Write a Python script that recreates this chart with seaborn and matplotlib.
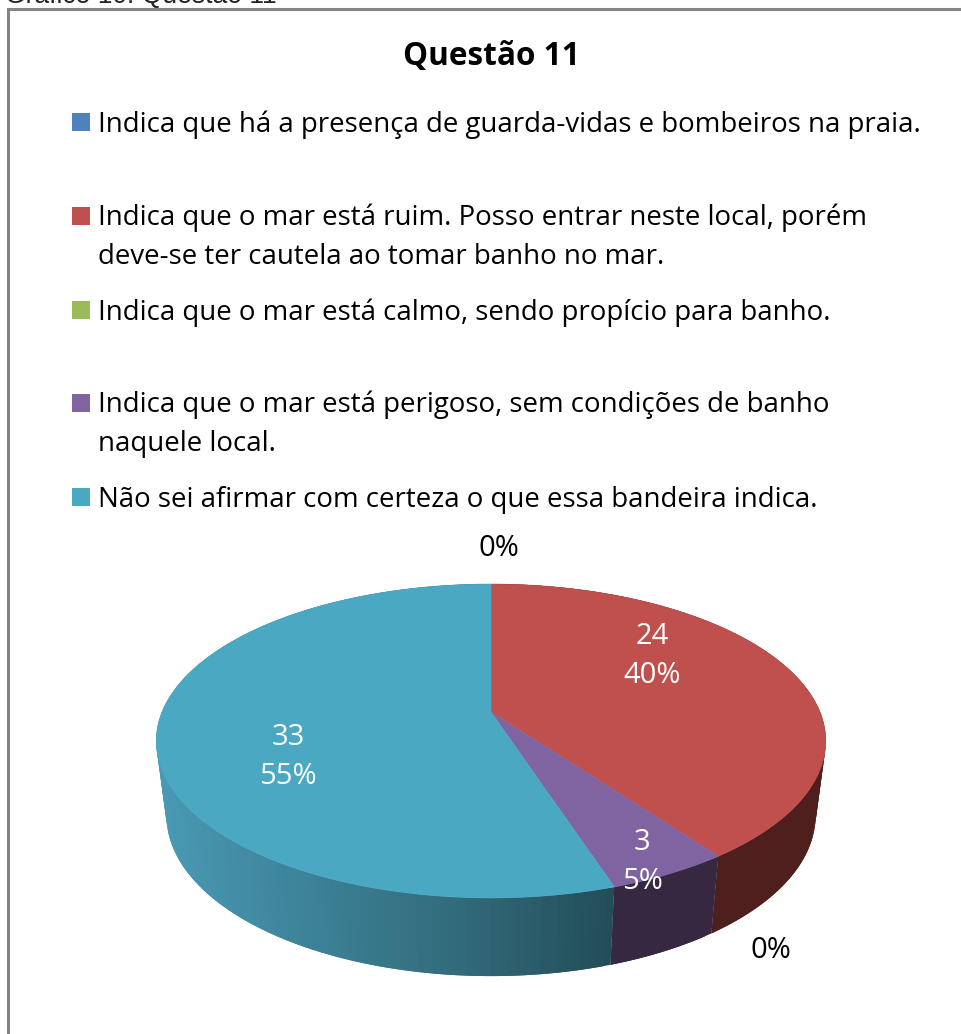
import numpy as np
import seaborn as sns
import matplotlib.pyplot as plt
from matplotlib.patches import Polygon, Rectangle

# Data
title = "Questão 11"
caption = "Gráfico 10: Questão 11"
categories = [
    "Indica que há a presença de guarda-vidas e bombeiros na praia.",
    "Indica que o mar está ruim. Posso entrar neste local, porém\ndeve-se ter cautela ao tomar banho no mar.",
    "Indica que o mar está calmo, sendo propício para banho.",
    "Indica que o mar está perigoso, sem condições de banho\nnaquele local.",
    "Não sei afirmar com certeza o que essa bandeira indica.",
]
counts = [0, 24, 0, 3, 33]
percents = [0, 40, 0, 5, 55]
colors = ["#4f81bd", "#c0504d", "#9bbb59", "#8064a2", "#4aa8c3"]
side_colors = ["#2a4a70", "#4e1f1d", "#5c7030", "#362840", None]
teal_side = ["#4a9ab5", "#3c8298", "#316a7a", "#234c58"]

# Where things sit on the page (pixels)
legend_y = [122, 216, 310, 403, 497]
label_xy = [(499, 548), (652, 656), (771, 950), (642, 862), (288, 757)]

sns.set_theme(style="white")
plt.rcParams["font.family"] = ["Open Sans", "DejaVu Sans"]

fig = plt.figure(figsize=(9.61, 10.34), dpi=100)
ax = fig.add_axes([0, 0, 1, 1])
ax.set_xlim(0, 961)
ax.set_ylim(1034, 0)
ax.axis("off")

# Chart frame, only left and top show in the screenshot
ax.plot([8, 8, 961], [1034, 9, 9], color="#858585", lw=2.2, solid_joinstyle="miter")
ax.text(5, 3, caption, family="Liberation Sans", fontsize=19.1, color="#222222", va="baseline")
ax.text(491, 57, title, fontsize=22.7, fontweight="bold", color="black", ha="center", va="center")

for y, cat, col in zip(legend_y, categories, colors):
    ax.add_patch(Rectangle((72, y - 9), 18, 18, color=col, lw=0))
    offset = 21 if "\n" in cat else 3
    ax.text(98, y + offset, cat, fontsize=19.87, color="black", va="center", ha="left", linespacing=1.5)


def project(frac, cx, cy, a, b, k=0.1847):
    # circle seen in perspective, clockwise from the top
    th = 2 * np.pi * np.asarray(frac)
    u, v = np.sin(th), np.cos(th)
    d = 1 + k * v
    return cx + a * u / d, cy - b * v / d


top = dict(cx=491, cy=712, a=329, b=151.6)
low = dict(cx=491, cy=786, a=319, b=155)

edges = np.concatenate([[0], np.cumsum(counts)]) / sum(counts)
teal_ramp = sns.blend_palette(teal_side, n_colors=128)

# sides first, the top hides whatever lies behind it
for i in range(len(counts)):
    if counts[i] == 0:
        continue
    n = max(int((edges[i + 1] - edges[i]) * 300), 2)
    f = np.linspace(edges[i], edges[i + 1], n + 1)
    x0, y0 = project(f, **top)
    x1, y1 = project(f, **low)
    # each strip runs over the next so no seams show
    for j in range(n):
        if side_colors[i] is None:
            mid = (x1[j] + x1[j + 1]) / 2
            c = teal_ramp[int(np.clip((mid - 160) / (611 - 160), 0, 1) * 127)]
        else:
            c = side_colors[i]
        e = min(j + 2, n)
        pts = [(x0[j], y0[j]), (x0[e], y0[e]), (x1[e], y1[e]), (x1[j], y1[j])]
        ax.add_patch(Polygon(pts, closed=True, facecolor=c, edgecolor="none", lw=0))

for i in range(len(counts)):
    if counts[i] == 0:
        continue
    f = np.linspace(edges[i], edges[i + 1], 300)
    x0, y0 = project(f, **top)
    pts = np.column_stack([np.r_[top["cx"], x0], np.r_[top["cy"], y0]])
    ax.add_patch(Polygon(pts, closed=True, facecolor=colors[i], edgecolor=colors[i], lw=0.4))

# Slice labels
for i, (x, y) in enumerate(label_xy):
    if counts[i] == 0:
        ax.text(x, y, f"{percents[i]}%", fontsize=21, color="black", ha="center", va="center")
    else:
        ax.text(x, y, f"{counts[i]}\n{percents[i]}%", fontsize=21, color="white", ha="center",
                va="center", linespacing=1.47)

fig.savefig("out.png", dpi=100, facecolor="white")
